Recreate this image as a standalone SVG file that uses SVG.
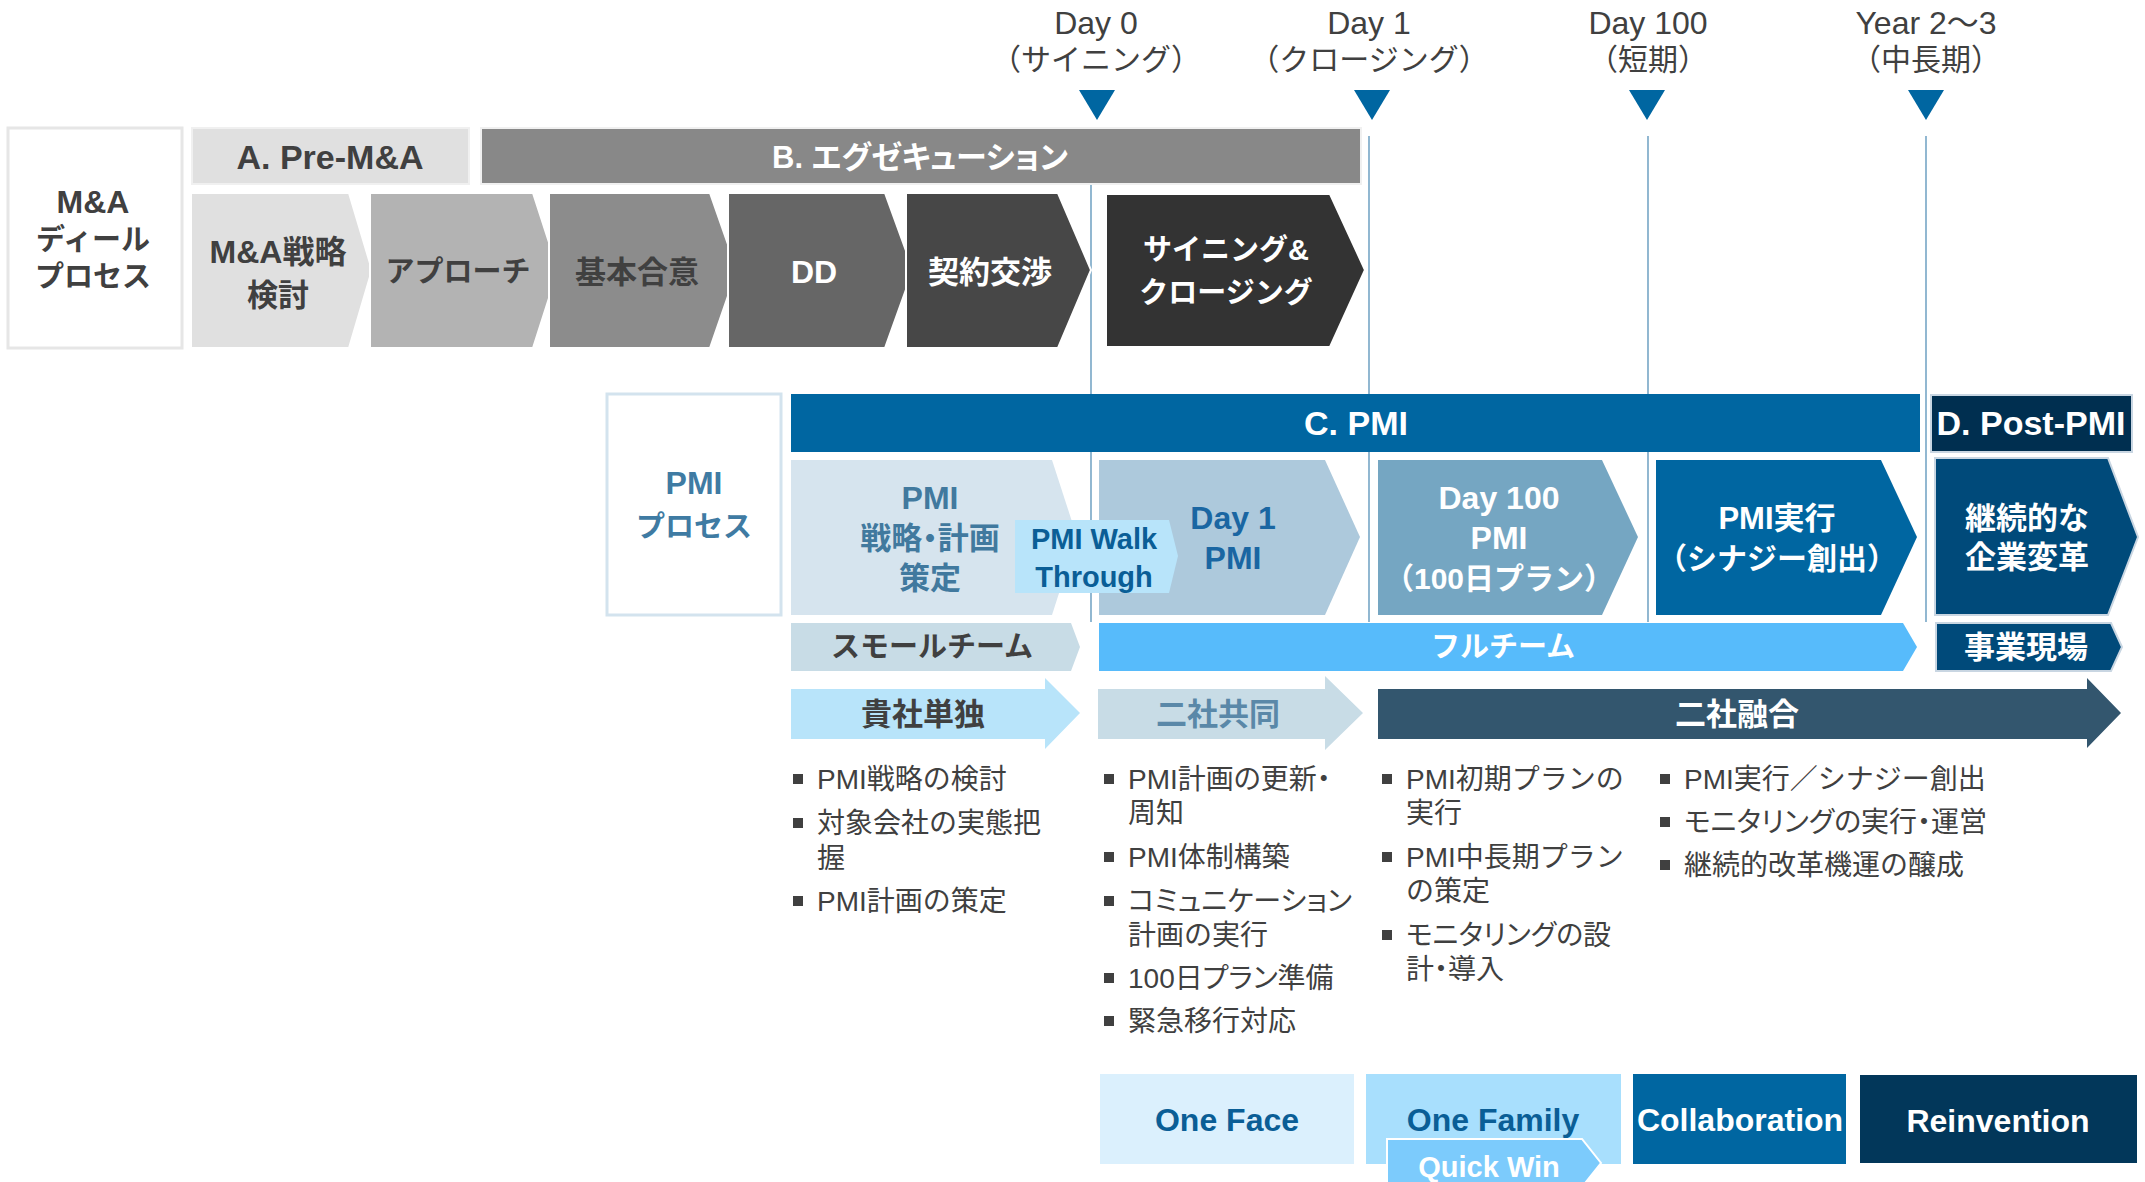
<svg xmlns="http://www.w3.org/2000/svg" width="2145" height="1182" viewBox="0 0 2145 1182">
<style>
text{font-family:"Liberation Sans","Noto Sans CJK JP",sans-serif;text-anchor:middle;dominant-baseline:central}
.s34{font-weight:bold;font-size:34px}
.s32{font-weight:bold;font-size:32px}
.s31{font-weight:bold;font-size:31px}
.s30{font-weight:bold;font-size:30px}
.s29{font-weight:bold;font-size:29px}
.tl{font-size:30px;fill:#404040}
.tl1{font-size:32px;fill:#404040}
.bl{font-size:28px;fill:#404040;text-anchor:start}
.p{font-feature-settings:"palt"}
.g{fill:#404040}
.w{fill:#ffffff}
.cv{stroke:#ffffff;stroke-width:2}
.vl{stroke:#76a6c6;stroke-width:1.6}
</style>
<defs>
<path id="tri" d="M-18,0 L18,0 L0,30 Z" fill="#0066a1"/>
<rect id="bu" x="-5" y="-5" width="10" height="10" fill="#404040"/>
</defs>
<rect width="2145" height="1182" fill="#ffffff"/>

<g id="connectors">
<line class="vl" x1="1091" y1="136" x2="1091" y2="622"/>
<line class="vl" x1="1369" y1="136" x2="1369" y2="622"/>
<line class="vl" x1="1648" y1="136" x2="1648" y2="622"/>
<line class="vl" x1="1926" y1="136" x2="1926" y2="622"/>
</g>

<g id="timeline">
<g id="day0"><text class="tl1" x="1096" y="23">Day 0</text><text class="tl" x="1096" y="59">（サイニング）</text><use href="#tri" x="1097" y="90"/></g>
<g id="day1"><text class="tl1" x="1369" y="23">Day 1</text><text class="tl" x="1369" y="59">（クロージング）</text><use href="#tri" x="1372" y="90"/></g>
<g id="day100"><text class="tl1" x="1648" y="23">Day 100</text><text class="tl" x="1648" y="59">（短期）</text><use href="#tri" x="1647" y="90"/></g>
<g id="year23"><text class="tl1" x="1926" y="23">Year 2〜3</text><text class="tl" x="1926" y="59">（中長期）</text><use href="#tri" x="1926" y="90"/></g>
</g>

<g id="ma-process">
<rect x="8" y="128" width="174" height="220" fill="#ffffff" stroke="#e6e6e6" stroke-width="3"/>
<text class="s32 g" x="93" y="202">M&amp;A</text>
<text class="s29 g" x="93" y="240">ディール</text>
<text class="s29 g" x="93" y="277">プロセス</text>
</g>

<g id="pre-ma">
<rect x="192" y="128" width="277" height="56" fill="#e0e0e0" stroke="#f0f0f0" stroke-width="2"/>
<text class="s34 g" x="330" y="157">A. Pre-M&amp;A</text>
</g>
<g id="execution">
<rect x="481" y="128" width="880" height="56" fill="#888888" stroke="#f0f0f0" stroke-width="2"/>
<text class="s31 w p" x="920" y="157">B. エグゼキューション</text>
</g>

<g id="ma-strategy">
<polygon class="cv" points="191,193 349,193 372,270 349,348 191,348" fill="#e0e0e0"/>
<text class="s32 g" x="278" y="252">M&amp;A戦略</text>
<text class="s31 g" x="278" y="295">検討</text>
</g>
<g id="approach">
<polygon class="cv" points="370,193 533,193 558,270 533,348 370,348" fill="#b3b3b3"/>
<text class="s29 g" x="458" y="272">アプローチ</text>
</g>
<g id="basic-agreement">
<polygon class="cv" points="549,193 710,193 737,270 710,348 549,348" fill="#8c8c8c"/>
<text class="s31 g" x="637" y="272">基本合意</text>
</g>
<g id="dd">
<polygon class="cv" points="728,193 885,193 913,270 885,348 728,348" fill="#666666"/>
<text class="s32 w" x="814" y="272">DD</text>
</g>
<g id="negotiation">
<polygon class="cv" points="906,193 1058,193 1091,270 1058,348 906,348" fill="#474747"/>
<text class="s31 w" x="990" y="272">契約交渉</text>
</g>
<g id="signing-closing">
<polygon class="cv" points="1106,194 1330,194 1365,270 1330,347 1106,347" fill="#333333"/>
<text class="s29 w" x="1226" y="250">サイニング&amp;</text>
<text class="s29 w" x="1226" y="293">クロージング</text>
</g>

<g id="pmi-process">
<rect x="607" y="394" width="174" height="221" fill="#ffffff" stroke="#d3e3ee" stroke-width="3"/>
<text class="s32" fill="#3f7ba3" x="694" y="483">PMI</text>
<text class="s29" fill="#3f7ba3" x="694" y="527">プロセス</text>
</g>

<g id="c-pmi">
<rect x="791" y="394" width="1129" height="58" fill="#0066a1"/>
<text class="s34 w" x="1356" y="423">C. PMI</text>
</g>
<g id="d-post-pmi">
<rect x="1931" y="395" width="201" height="57" fill="#002f50" stroke="#c9d6e2" stroke-width="2"/>
<text class="s34 w" x="2031" y="423">D. Post-PMI</text>
</g>

<g id="pmi-strategy">
<polygon points="791,460 1052,460 1077,537 1052,615 791,615" fill="#d6e4ee"/>
<text class="s32" fill="#41799e" x="930" y="498">PMI</text>
<text class="s31 p" fill="#41799e" x="930" y="538">戦略・計画</text>
<text class="s31" fill="#41799e" x="930" y="578">策定</text>
</g>
<g id="day1-pmi">
<polygon points="1099,460 1325,460 1360,537 1325,615 1099,615" fill="#adc9dc"/>
<text class="s32" fill="#1a66a2" x="1233" y="518">Day 1</text>
<text class="s32" fill="#1a66a2" x="1233" y="558">PMI</text>
</g>
<g id="pmi-walk-through">
<polygon points="1015,520 1169,520 1178,556 1169,593 1015,593" fill="#b8e4fa"/>
<text class="s29" fill="#0a5e96" x="1094" y="539">PMI Walk</text>
<text class="s29" fill="#0a5e96" x="1094" y="577">Through</text>
</g>
<g id="day100-pmi">
<polygon points="1378,460 1602,460 1638,537 1602,615 1378,615" fill="#75a6c2"/>
<text class="s32 w" x="1499" y="498">Day 100</text>
<text class="s32 w" x="1499" y="538">PMI</text>
<text class="s30 w" x="1499" y="578">（100日プラン）</text>
</g>
<g id="pmi-execution">
<polygon points="1656,460 1881,460 1917,537 1881,615 1656,615" fill="#0066a1"/>
<text class="s31 w" x="1777" y="518">PMI実行</text>
<text class="s30 w" x="1777" y="558">（シナジー創出）</text>
</g>
<g id="continuous-transformation">
<polygon points="1935,458 2108,458 2138,537 2108,615 1935,615" fill="#004a7a" stroke="#c9d6e2" stroke-width="2"/>
<text class="s31 w" x="2027" y="518">継続的な</text>
<text class="s31 w" x="2027" y="557">企業変革</text>
</g>

<g id="small-team">
<polygon points="791,623 1071,623 1080,647 1071,671 791,671" fill="#c8dce6"/>
<text class="s29 g" x="932" y="647">スモールチーム</text>
</g>
<g id="full-team">
<polygon points="1099,623 1903,623 1917,647 1903,671 1099,671" fill="#57bbfb"/>
<text class="s29 w" x="1503" y="647">フルチーム</text>
</g>
<g id="business-site">
<polygon points="1936,623 2111,623 2122,647 2111,671 1936,671" fill="#004a7a" stroke="#c9d6e2" stroke-width="2"/>
<text class="s31 w" x="2026" y="647">事業現場</text>
</g>

<g id="own-company">
<polygon points="791,689 1045,689 1045,678 1080,713 1045,749 1045,739 791,739" fill="#b8e4fa"/>
<text class="s31 g" x="923" y="714">貴社単独</text>
</g>
<g id="joint">
<polygon points="1098,689 1325,689 1325,676 1363,713 1325,750 1325,739 1098,739" fill="#c8dce6"/>
<text class="s31" fill="#5a88a8" x="1218" y="714">二社共同</text>
</g>
<g id="integration">
<polygon points="1378,689 2087,689 2087,678 2121,713 2087,748 2087,739 1378,739" fill="#33566e"/>
<text class="s31 w" x="1737" y="714">二社融合</text>
</g>

<g id="tasks-1">
<use href="#bu" x="798" y="779"/><text class="bl" x="817" y="779">PMI戦略の検討</text>
<use href="#bu" x="798" y="823"/><text class="bl" x="817" y="823">対象会社の実態把</text>
<text class="bl" x="817" y="858">握</text>
<use href="#bu" x="798" y="901"/><text class="bl" x="817" y="901">PMI計画の策定</text>
</g>
<g id="tasks-2">
<use href="#bu" x="1109" y="779"/><text class="bl p" x="1128" y="779">PMI計画の更新・</text>
<text class="bl" x="1128" y="813">周知</text>
<use href="#bu" x="1109" y="857"/><text class="bl" x="1128" y="857">PMI体制構築</text>
<use href="#bu" x="1109" y="901"/><text class="bl p" x="1128" y="901">コミュニケーション</text>
<text class="bl" x="1128" y="935">計画の実行</text>
<use href="#bu" x="1109" y="978"/><text class="bl p" x="1128" y="978">100日プラン準備</text>
<use href="#bu" x="1109" y="1021"/><text class="bl" x="1128" y="1021">緊急移行対応</text>
</g>
<g id="tasks-3">
<use href="#bu" x="1387" y="779"/><text class="bl" x="1406" y="779">PMI初期プランの</text>
<text class="bl" x="1406" y="813">実行</text>
<use href="#bu" x="1387" y="857"/><text class="bl" x="1406" y="857">PMI中長期プラン</text>
<text class="bl" x="1406" y="891">の策定</text>
<use href="#bu" x="1387" y="935"/><text class="bl p" x="1406" y="935">モニタリングの設</text>
<text class="bl p" x="1406" y="969">計・導入</text>
</g>
<g id="tasks-4">
<use href="#bu" x="1665" y="779"/><text class="bl" x="1684" y="779">PMI実行／シナジー創出</text>
<use href="#bu" x="1665" y="822"/><text class="bl p" x="1684" y="822">モニタリングの実行・運営</text>
<use href="#bu" x="1665" y="865"/><text class="bl" x="1684" y="865">継続的改革機運の醸成</text>
</g>

<g id="one-face">
<rect x="1100" y="1074" width="254" height="90" fill="#dbf0fd"/>
<text class="s32" fill="#0a5e96" x="1227" y="1120">One Face</text>
</g>
<g id="one-family">
<rect x="1366" y="1074" width="255" height="90" fill="#a8dffd"/>
<text class="s32" fill="#0a5e96" x="1493" y="1120">One Family</text>
</g>
<g id="quick-win">
<polygon points="1387,1139 1582,1139 1601,1163 1582,1187 1387,1187" fill="#7ccbfc" stroke="#ffffff" stroke-width="2"/>
<text class="s29 w" x="1489" y="1167">Quick Win</text>
</g>
<g id="collaboration">
<rect x="1633" y="1074" width="213" height="90" fill="#0066a1"/>
<text class="s32 w" x="1740" y="1120">Collaboration</text>
</g>
<g id="reinvention">
<rect x="1860" y="1075" width="277" height="88" fill="#02375a"/>
<text class="s32 w" x="1998" y="1121">Reinvention</text>
</g>
</svg>
